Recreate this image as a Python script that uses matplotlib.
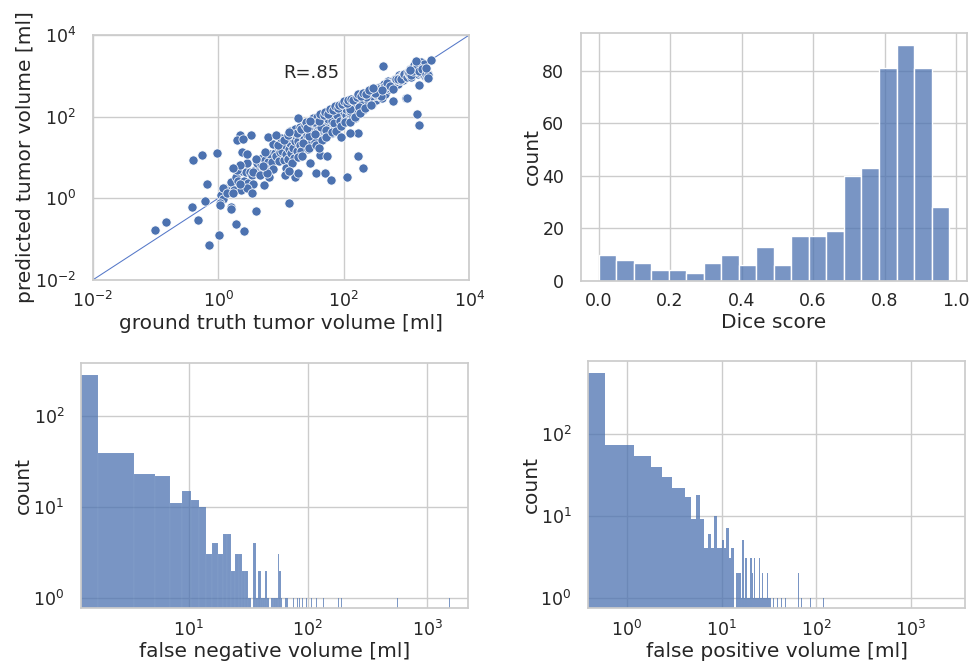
import numpy as np
import pandas as pd
import matplotlib
matplotlib.use("Agg")
import matplotlib.pyplot as plt
import seaborn as sns

sns.set_theme(style="whitegrid", rc={"axes.labelsize": 14.5,
                                     "xtick.labelsize": 12.5,
                                     "ytick.labelsize": 12.5,
                                     "xtick.major.pad": 2,
                                     "ytick.major.pad": 6,
                                     "axes.labelpad": 2})

# --- tumor volumes (ml): ground truth vs predicted ---
# band 1-10 ml
gt_a = [1.1, 1.2, 1.3, 1.5, 1.6, 1.8, 1.9, 2.1, 2.3, 2.4,
        2.6, 2.8, 3.0, 3.2, 3.4, 3.6, 3.9, 4.2, 4.5, 4.8,
        5.0, 5.3, 5.6, 6.0, 6.3, 6.7, 7.1, 7.5, 8.0, 8.4,
        8.8, 9.2, 9.6, 2.0, 4.0]
pred_a = [1.23, 0.95, 1.84, 1.5, 2.54, 1.6, 3.38, 2.64, 1.63, 4.79,
          2.6, 4.44, 2.38, 4.52, 3.81, 2.27, 4.91, 7.47, 4.01, 6.78,
          9.98, 5.3, 8.88, 4.76, 7.93, 11.9, 7.97, 5.31, 12.7, 10.6,
          17.6, 8.2, 13.6, 5.02, 8.96]
# band 10-100 ml
gt_b = [10.5, 11, 11.5, 12, 12.5, 13, 13.5, 14, 14.5, 15,
        15.5, 16, 17, 17.5, 18, 19, 19.5, 20, 21, 22,
        23, 24, 25, 26, 27, 28, 29, 30, 31, 32,
        33, 34, 35, 36, 37, 38, 40, 41, 42, 44,
        45, 46, 48, 50, 51, 53, 55, 56, 58, 60,
        62, 63, 65, 67, 69, 70, 72, 74, 76, 78,
        80, 82, 84, 86, 88, 90, 92, 94, 96, 98,
        22.5, 27.5, 34.5, 43, 52, 57, 64, 71, 79, 87]
pred_b = [14.7, 8.8, 20.7, 12, 27.5, 9.1, 16.2, 22.4, 13.1, 30,
          17.1, 9.6, 25.5, 33.3, 14.4, 24.7, 44.9, 20, 14.7, 35.2,
          27.6, 48, 22.5, 36.4, 16.2, 47.6, 31.9, 24, 65.1, 41.6,
          29.7, 51, 24.5, 64.8, 44.4, 19, 56, 41, 84, 35.2,
          58.5, 78.2, 43.2, 55, 81.6, 37.1, 104.5, 67.2, 46.4, 84,
          62, 138.6, 39, 87.1, 117.3, 63, 108, 81.4, 60.8, 140.4,
          96, 57.4, 117.6, 163.4, 88, 144, 73.6, 122.2, 192, 107.8,
          22.5, 33, 38, 55.9, 46.8, 85.5, 76.8, 71, 110.6, 78.3]
# band 100-1000 ml
gt_c = [102, 105, 108, 110, 113, 116, 120, 123, 126, 130,
        133, 136, 140, 144, 148, 152, 156, 160, 165, 170,
        175, 180, 185, 190, 195, 200, 206, 212, 218, 225,
        232, 240, 248, 255, 262, 270, 278, 286, 295, 305,
        315, 325, 335, 345, 355, 365, 378, 390, 402, 415,
        430, 445, 460, 475, 490, 505, 520, 540, 560, 580,
        600, 620, 645, 670, 695, 720, 750, 780, 810, 845,
        880, 915, 950, 985, 110, 125, 145, 165, 188, 210,
        235, 265, 290, 320, 350, 385, 420, 470, 530, 590,
        650, 710, 780, 860, 940, 118, 138, 158, 178, 198,
        222, 245, 272, 300, 330, 360, 395, 440, 480, 550,
        610, 680, 740, 820, 900, 128, 172, 228, 310, 410]
pred_c = [132.6, 84, 172.8, 110, 214.7, 81.2, 144, 184.5, 113.4, 143,
          226.1, 108.8, 182, 144, 222, 91.2, 187.2, 288, 148.5, 238,
          192.5, 288, 148, 247, 195, 340, 144.2, 254.4, 327, 202.5,
          324.8, 264, 198.4, 408, 314.4, 270, 417, 200.2, 383.5, 335.5,
          378, 260, 502.5, 345, 461.5, 328.5, 529.2, 429, 281.4, 539.5,
          430, 623, 368, 570, 539, 757.5, 468, 648, 560, 754,
          660, 496, 838.5, 670, 834, 648, 1050, 780, 972, 929.5,
          792, 1098, 950, 1083.5, 154, 137.5, 174, 214.5, 225.6, 294,
          282, 344.5, 319, 384, 455, 423.5, 504, 517, 636, 590,
          715, 852, 780, 946, 940, 188.8, 151.8, 221.2, 213.6, 257.4,
          333, 245, 326.4, 420, 363, 468, 316, 528, 672, 550,
          488, 816, 814, 820, 1080, 153.6, 172, 296.4, 372, 451]
# wider spread of the band, 5-300 ml
gt_e = [5.5, 6.5, 7.5, 9, 10, 11, 12, 13, 14, 15,
        16, 17, 18, 19, 20, 21, 22, 24, 25, 26,
        28, 30, 32, 34, 36, 38, 40, 42, 45, 48,
        50, 53, 56, 60, 64, 68, 72, 76, 80, 85,
        90, 95, 100, 106, 112, 118, 125, 132, 140, 150,
        160, 170, 180, 190, 200, 215, 230, 250, 270, 290]
pred_e = [13.75, 3.25, 21, 19.8, 30, 27.5, 5.4, 35.1, 44.8, 7.5,
          41.6, 51, 39.6, 10.45, 56, 50.4, 11, 62.4, 75, 52,
          16.8, 75, 92.8, 74.8, 19.8, 98.8, 80, 117.6, 27, 110.4,
          130, 31.8, 117.6, 150, 41.6, 149.6, 187.2, 45.6, 160, 195.5,
          58.5, 199.5, 240, 74.2, 212.8, 259.6, 75, 264, 252, 97.5,
          304, 357, 126, 323, 380, 161.25, 368, 450, 189, 493]
# band above 1000 ml
gt_d = [1020, 1060, 1100, 1150, 1200, 1250, 1300, 1350, 1400, 1500,
        1550, 1650, 1700, 1800, 1900, 2000, 2100, 2200, 1080, 1180,
        1280, 1450, 1600, 1750, 2050]
pred_d = [918, 1272, 1100, 1495, 960, 1375, 1820, 1215, 1680, 1125,
          1550, 1155, 2210, 1080, 1900, 1000, 945, 1100, 1188, 1062,
          1280, 1740, 1280, 1487.5, 1127.5]
# scattered cases away from the diagonal
gt_out = [0.098, 0.147, 0.38, 0.48, 0.61, 0.67, 0.72, 0.39, 0.56, 0.94,
          1.04, 1.06, 1.06, 1.57, 1.57, 1.91, 2.54, 3.94, 13.5, 111,
          168, 204, 1475, 1590, 415, 1440, 2440, 975, 600, 1590,
          2160, 2160, 18.4, 29, 3.28, 2.22, 1.96, 2.52, 6.25, 8.3,
          2.36, 2.83, 2.22, 1.73, 2.83, 2.83, 3.47, 5.35, 1.2, 1.36,
          1.73, 2.22, 3.6, 4.6, 5.9, 5.2, 11.5, 16.6, 18.4, 36,
          50, 62, 29, 41.7, 40, 55, 169, 92, 125, 1000,
          2030, 1140, 13.5, 13.5]
pred_out = [0.17, 0.27, 0.62, 0.29, 0.84, 2.26, 0.071, 8.5, 11.6, 13,
            0.13, 0.78, 0.7, 0.62, 0.55, 0.23, 0.16, 0.49, 0.75, 3.25,
            10.8, 5.4, 114, 62, 1770, 2340, 2440, 286, 245, 596,
            1050, 870, 91, 80, 35, 35, 26.7, 27.6, 31, 35,
            13.8, 7.4, 6.5, 5.4, 12.1, 1.75, 1.36, 2.07, 1.75, 1.36,
            1.36, 2.3, 4.5, 3.7, 4.1, 6.2, 3.7, 3.4, 4.1, 4.2,
            4.1, 2.8, 7.2, 11.5, 16.7, 10.8, 40, 31, 39, 280,
            1520, 1390, 42, 4.6]

# --- Dice score histogram (20 bins between min and max score) ---
dice_min, dice_max = 0.0, 0.98
dice_counts = [10, 8, 7, 4, 4, 3, 7, 10, 6, 13,
               6, 17, 17, 19, 40, 43, 81, 90, 81, 28]

# --- false negative volume histogram, bins of 1.75 ml ---
fn_binwidth = 1.75
fn_max = 1575
fn_counts = [282, 39, 23, 22, 11, 15, 12, 10, 3, 4,
             3, 5, 5, 2, 3, 3, 2, 2, 1, 0,
             4, 1, 2, 1, 1, 2, 1, 0, 1, 1,
             1, 1, 3, 2, 1]
fn_tail = [65.2, 68.1, 75.5, 81.1, 84.2, 89.5, 97.7, 107.5, 117.4, 129,
           135.9, 147.5, 181, 186, 192, 200, 206, 366, 402, 565, 1540]

# --- false positive volume histogram, bins of 0.593 ml ---
fp_binwidth = 0.593
fp_max = 2467
fp_counts = [555, 73, 54, 39, 30, 22, 22, 17, 9, 18,
             9, 4, 6, 4, 10, 4, 4, 5, 4, 7,
             3, 4, 4, 0, 2, 2, 2, 1, 5, 1,
             3, 1, 1, 1, 3, 2, 1, 3, 1, 1,
             1, 1, 3, 1, 1, 2, 1, 1, 1, 1,
             1, 2, 1, 0, 1, 1]
fp_tail = [35.3, 37.5, 39, 43, 45, 47, 50.1, 50.1, 50.1, 52,
           60, 60, 62.5, 64.7, 64.7, 70.3, 78.5, 80, 84, 86.6,
           97.5, 100, 105, 110, 119.6, 140, 207]

gt = gt_a + gt_b + gt_c + gt_e + gt_d + gt_out
pred = pred_a + pred_b + pred_c + pred_e + pred_d + pred_out

fig = plt.figure(figsize=(9.73, 6.63), dpi=100)
ax1 = fig.add_axes([0.0953, 0.5777, 0.3870, 0.3695])
ax2 = fig.add_axes([0.5971, 0.5762, 0.3964, 0.3745])
ax3 = fig.add_axes([0.0832, 0.0825, 0.3977, 0.3704])
ax4 = fig.add_axes([0.6046, 0.0825, 0.3871, 0.3730])

# scatter: predicted vs ground truth
sns.scatterplot(x=gt, y=pred, ax=ax1, s=44, zorder=3)
ax1.plot([1e-2, 1e4], [1e-2, 1e4], lw=0.75, color="#5578c8", zorder=2)
ax1.set(xscale="log", yscale="log", xlim=(1e-2, 1e4), ylim=(1e-2, 1e4))
ax1.set_xticks([1e-2, 1e0, 1e2, 1e4])
ax1.set_yticks([1e-2, 1e0, 1e2, 1e4])
ax1.minorticks_off()
ax1.text(11, 10 ** 3.07, "R=.85", va="center", fontsize=13)
ax1.set_xlabel("ground truth tumor volume [ml]")
ax1.set_ylabel("predicted tumor volume [ml]", labelpad=0)

# Dice histogram
dice_edges = list(np.linspace(dice_min, dice_max, len(dice_counts) + 1))
dice_df = pd.DataFrame({"v": [(a + b) / 2 for a, b in zip(dice_edges[:-1], dice_edges[1:])],
                        "w": dice_counts})
sns.histplot(data=dice_df, x="v", weights="w", bins=dice_edges, ax=ax2)
ax2.set_xticks([0.0, 0.2, 0.4, 0.6, 0.8, 1.0])
ax2.set_yticks([0, 20, 40, 60, 80])
ax2.set_xlabel("Dice score")
ax2.set_ylabel("count", labelpad=0)


def volume_hist(ax, counts, tail, binwidth, vmax, xlim, ylim, xlabel):
    edges = list(np.arange(0, vmax + binwidth / 2, binwidth))
    centers = (np.arange(len(counts)) + 0.5) * binwidth
    df = pd.DataFrame({"v": list(centers) + list(tail),
                       "w": list(counts) + [1] * len(tail)})
    sns.histplot(data=df, x="v", weights="w", bins=edges, ax=ax)
    ax.set(xscale="log", yscale="log", xlim=xlim, ylim=ylim)
    ax.minorticks_off()
    ax.set_xlabel(xlabel)
    ax.set_ylabel("count", labelpad=0)


volume_hist(ax3, fn_counts, fn_tail, fn_binwidth, fn_max,
            (1.25, 2200), (0.77, 380), "false negative volume [ml]")
volume_hist(ax4, fp_counts, fp_tail, fp_binwidth, fp_max,
            (0.39, 3740), (0.74, 770), "false positive volume [ml]")

fig.savefig("out.png", dpi=100)
